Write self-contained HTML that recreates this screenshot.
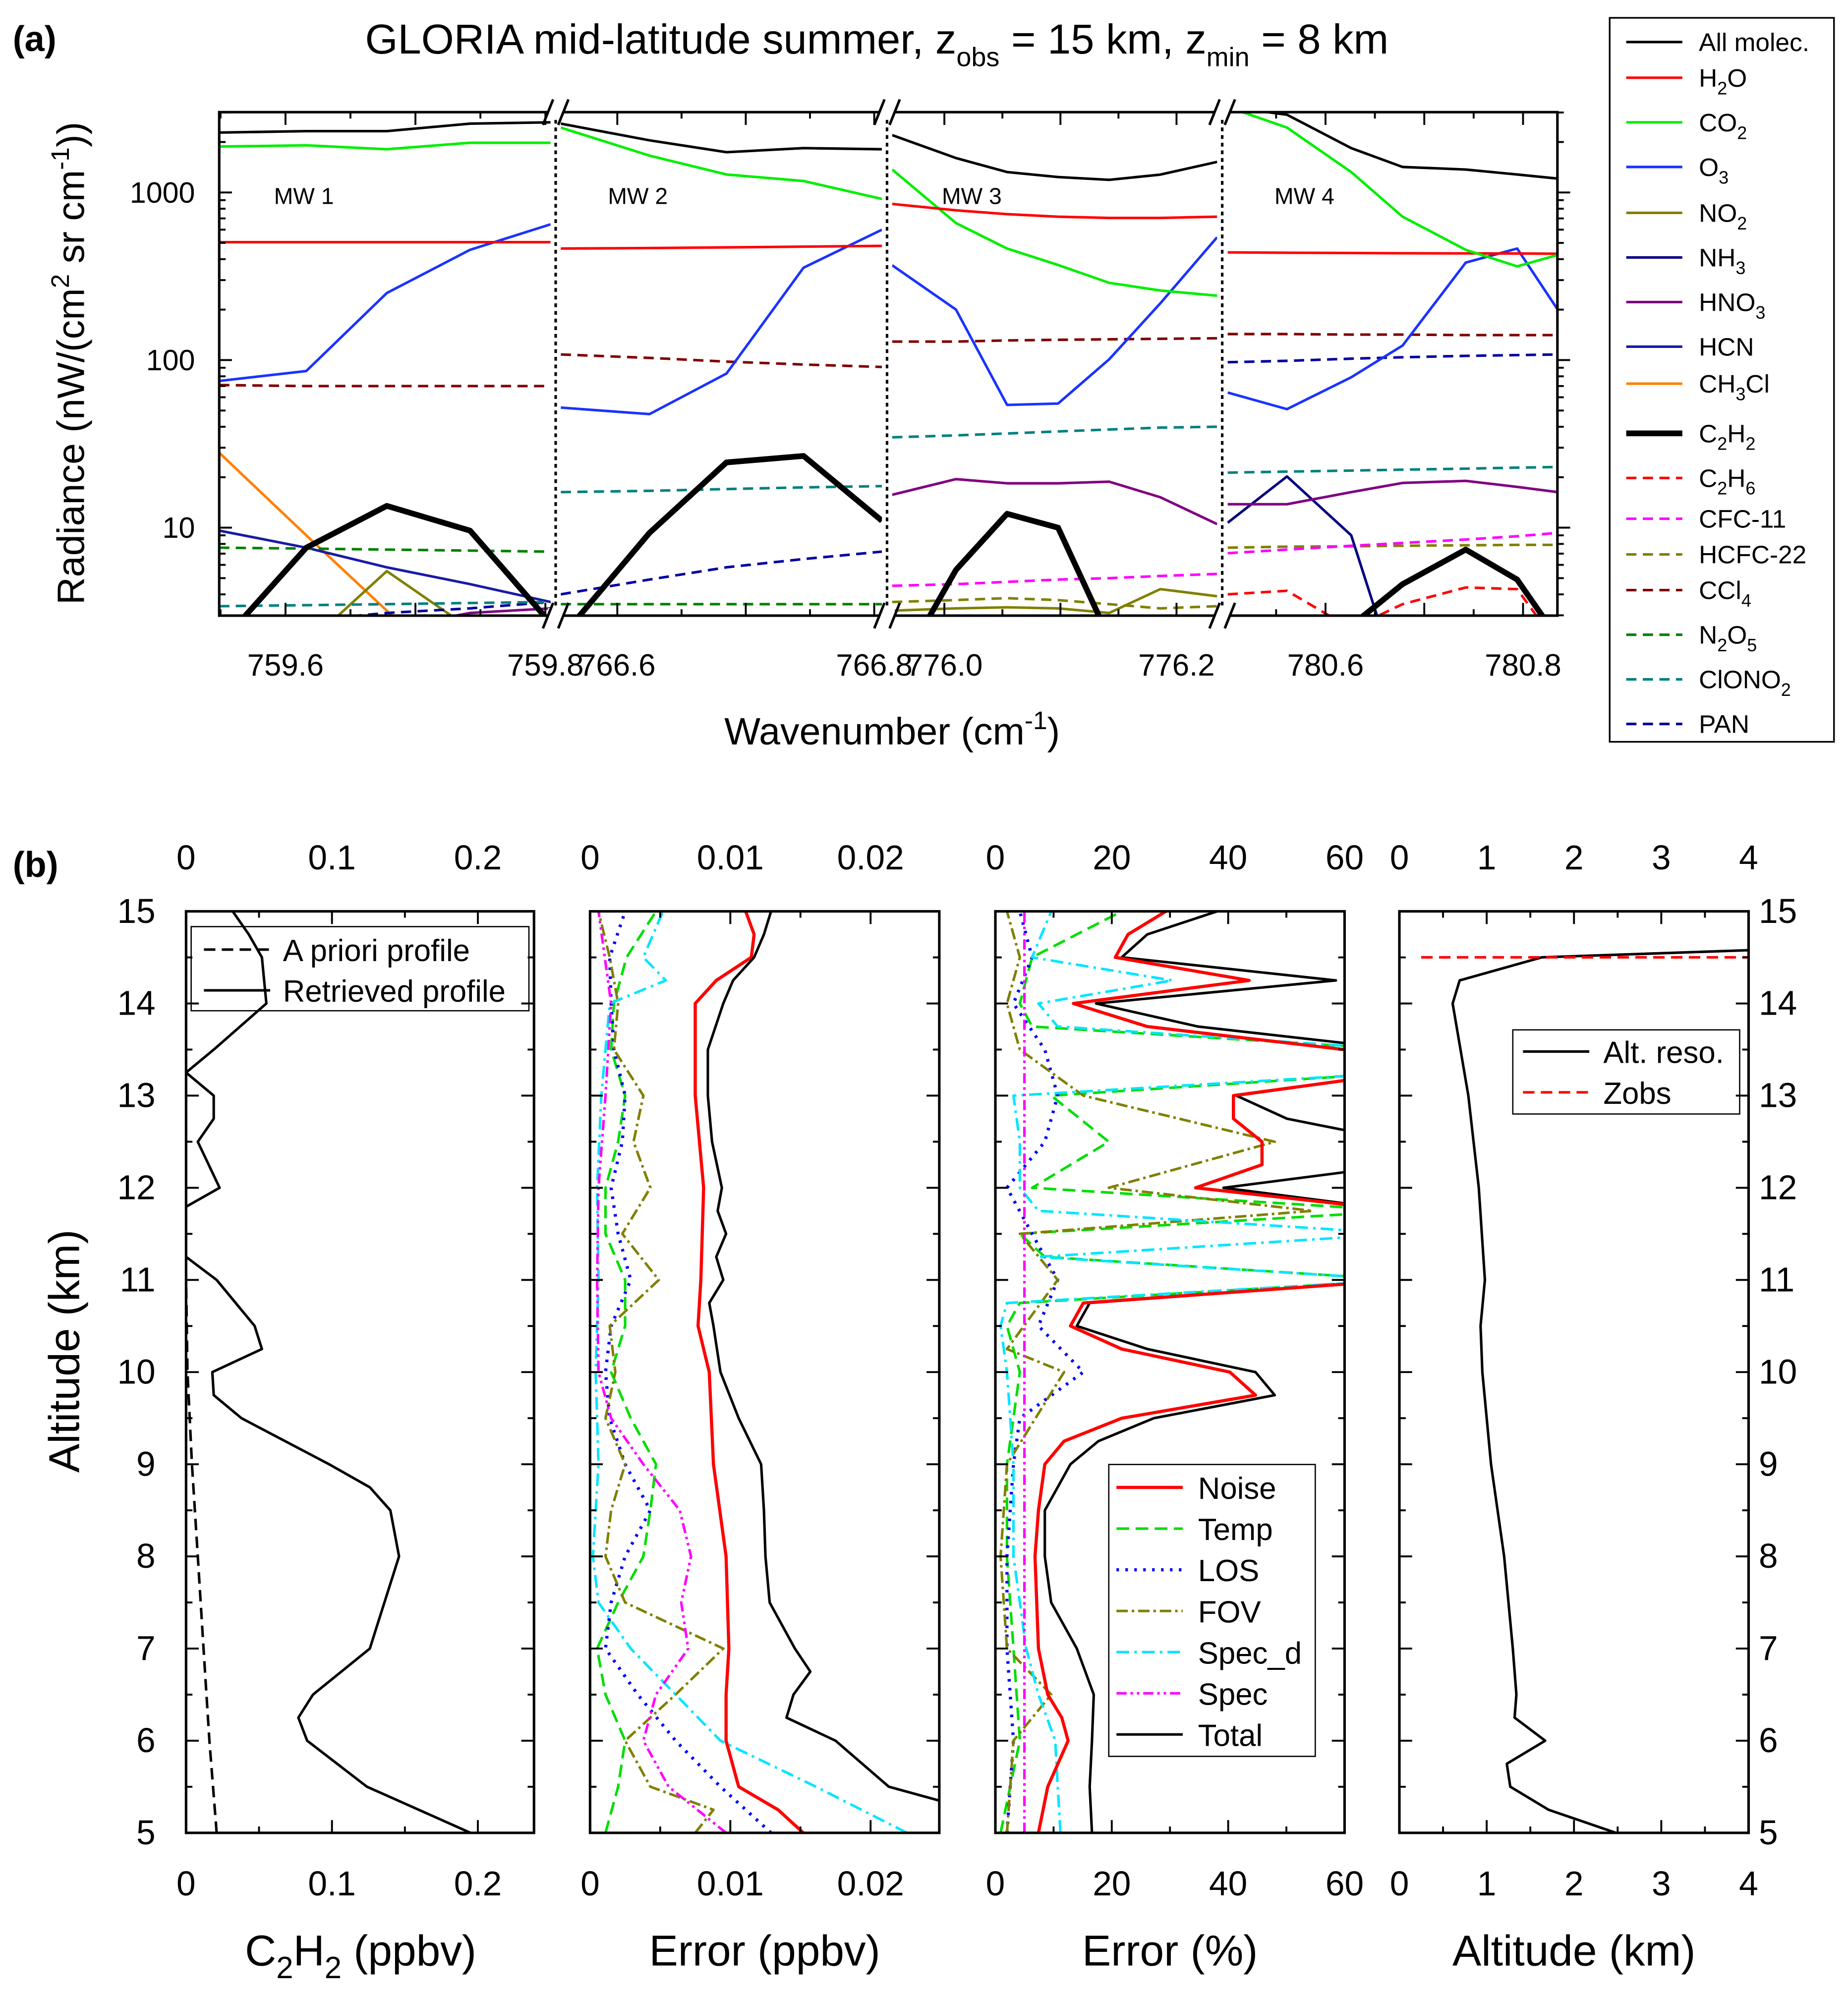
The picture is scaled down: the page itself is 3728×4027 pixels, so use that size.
<!DOCTYPE html>
<html><head><meta charset="utf-8"><title>GLORIA C2H2</title>
<style>
html,body{margin:0;padding:0;background:#fff;}
svg{display:block;font-family:"Liberation Sans",Arial,sans-serif;}
</style></head>
<body>
<svg id="chart" xmlns="http://www.w3.org/2000/svg" width="3728" height="4027" viewBox="0 0 1450 1566" preserveAspectRatio="none">
<rect x="0" y="0" width="1450" height="1566" fill="#fff"/>
<defs>
<clipPath id="cmw1"><rect x="172" y="88" width="260" height="395"/></clipPath>
<clipPath id="cmw2"><rect x="440" y="88" width="252" height="395"/></clipPath>
<clipPath id="cmw3"><rect x="700" y="88" width="255" height="395"/></clipPath>
<clipPath id="cmw4"><rect x="963" y="88" width="259" height="395"/></clipPath>
<clipPath id="cb1"><rect x="146" y="715" width="273" height="723"/></clipPath>
<clipPath id="cb2"><rect x="463" y="715" width="274" height="723"/></clipPath>
<clipPath id="cb3"><rect x="781" y="715" width="274" height="723"/></clipPath>
<clipPath id="cb4"><rect x="1098" y="715" width="274" height="723"/></clipPath>
</defs>
<text x="10" y="40" font-size="28" font-weight="bold">(a)</text>
<text x="10" y="688" font-size="28" font-weight="bold">(b)</text>
<text x="688" y="42" font-size="33" text-anchor="middle">GLORIA mid-latitude summer, z<tspan font-size="21" dy="10">obs</tspan><tspan dy="-10"> = 15 km, z</tspan><tspan font-size="21" dy="10">min</tspan><tspan dy="-10"> = 8 km</tspan></text>
<text transform="translate(66,285) rotate(-90)" font-size="30" text-anchor="middle">Radiance (nW/(cm<tspan font-size="20" dy="-12">2</tspan><tspan dy="12"> sr cm</tspan><tspan font-size="20" dy="-12">-1</tspan><tspan dy="12">))</tspan></text>
<text x="700" y="584" font-size="30" text-anchor="middle">Wavenumber (cm<tspan font-size="20" dy="-12">-1</tspan><tspan dy="12">)</tspan></text>
<text transform="translate(62,1060) rotate(-90)" font-size="34" text-anchor="middle">Altitude (km)</text>
<text x="283" y="1542" font-size="34" text-anchor="middle">C<tspan font-size="24" dy="10">2</tspan><tspan dy="-10">H</tspan><tspan font-size="24" dy="10">2</tspan><tspan dy="-10"> (ppbv)</tspan></text>
<text x="600" y="1542" font-size="34" text-anchor="middle">Error (ppbv)</text>
<text x="918" y="1542" font-size="34" text-anchor="middle">Error (%)</text>
<text x="1235" y="1542" font-size="34" text-anchor="middle">Altitude (km)</text>
<g id="mwlabels" font-size="18">
<text x="215" y="160">MW 1</text>
<text x="477" y="160">MW 2</text>
<text x="739" y="160">MW 3</text>
<text x="1000" y="160">MW 4</text>
</g>
<g id="legendA">
<rect x="1263" y="14" width="176" height="568" fill="#fff" stroke="#000" stroke-width="1.3"/>
</g>
<g id="legB1">
<rect x="150" y="727" width="265" height="66" fill="#fff" stroke="#000" stroke-width="1"/>
<line x1="160" y1="745" x2="212" y2="745" stroke="#000" stroke-width="2" stroke-dasharray="9,5"/>
<text x="222" y="754" font-size="24">A priori profile</text>
<line x1="160" y1="777" x2="212" y2="777" stroke="#000" stroke-width="2"/>
<text x="222" y="786" font-size="24">Retrieved profile</text>
</g>
<g id="legB4">
<rect x="1187" y="808" width="178" height="66" fill="#fff" stroke="#000" stroke-width="1"/>
<line x1="1195" y1="825" x2="1247" y2="825" stroke="#000" stroke-width="2"/>
<text x="1258" y="834" font-size="24">Alt. reso.</text>
<line x1="1195" y1="857" x2="1247" y2="857" stroke="#f00" stroke-width="2" stroke-dasharray="9,5"/>
<text x="1258" y="866" font-size="24">Zobs</text>
</g>
<script>
// ---------- Panel (a) data ----------
const mw1_wn=[759.549,759.616,759.678,759.742,759.804];
const mw1_all=[2276,2320,2320,2575,2620];
const mw1_h2o=[505,505,505,505,505];
const mw1_co2=[1878,1913,1811,1980,1980];
const mw1_o3=[75,86,251,455,646];
const mw1_ccl4=[71,70,70,70,70];
const mw1_c2h2=[2,7.6,13.5,9.6,2.7];
const mw1_ch3cl=[28,9,3.2,1,1];
const mw1_hcn=[9.6,7.6,5.8,4.6,3.6];
const mw1_n2o5=[7.6,7.5,7.4,7.3,7.2];
const mw1_clono2=[3.4,3.45,3.5,3.55,3.6];
const mw1_pan=[2.6,2.8,3.1,3.3,3.6];
const mw1_no2=[2,2,5.5,2.5,2];
const mw1_hno3=[2,2,2.5,3.1,3.3];

const mw2_wn=[766.556,766.625,766.685,766.745,766.806];
const mw2_all=[2575,2045,1740,1840,1810];
const mw2_h2o=[463,466,470,475,480];
const mw2_co2=[2440,1660,1280,1170,915];
const mw2_o3=[52,47.6,83,356,600];
const mw2_ccl4=[108,103,98,94,91];
const mw2_clono2=[16.3,16.6,17,17.4,17.7];
const mw2_c2h2=[2.2,9.3,24.5,26.8,11];
const mw2_pan=[4.0,4.9,5.8,6.5,7.2];
const mw2_n2o5=[3.5,3.5,3.5,3.5,3.5];

const mw3_wn=[775.955,776.010,776.054,776.098,776.142,776.186,776.235];
const mw3_all=[2200,1605,1323,1235,1190,1278,1522];
const mw3_h2o=[854,783,742,717,704,704,717];
const mw3_co2=[1370,657,463,369,289,260,242];
const mw3_o3=[368,200,54,55,101,218,541];
const mw3_ccl4=[129,129,131,132,133,134,135];
const mw3_clono2=[34.6,35.5,36.5,37.5,38.5,39.5,40];
const mw3_hno3=[15.7,19.5,18.4,18.4,18.8,15.2,10.5];
const mw3_c2h2=[1.2,5.6,12.1,10,2.2,1,1];
const mw3_cfc11=[4.5,4.6,4.75,4.9,5.0,5.15,5.3];
const mw3_hcfc22=[3.6,3.7,3.8,3.7,3.5,3.3,3.4];
const mw3_no2=[3.2,3.3,3.35,3.3,3.1,4.3,3.9];

const mw4_wn=[780.501,780.561,780.626,780.678,780.742,780.794,780.835];
const mw4_all=[3240,2910,1840,1420,1370,1280,1210];
const mw4_h2o=[439,437,435,434,433,432,431];
const mw4_co2=[3240,2440,1323,717,455,362,424];
const mw4_o3=[64,51,79,122,382,463,200];
const mw4_ccl4=[143,143,142,142,141,141,141];
const mw4_pan=[97,99,102,104,106,107,108];
const mw4_clono2=[21.3,21.6,21.9,22.2,22.5,22.8,23];
const mw4_hno3=[13.8,13.8,16.3,18.5,19,17.5,16.3];
const mw4_nh3=[10.7,20.2,9,1,1,1,1];
const mw4_cfc11=[7.05,7.4,7.8,8.1,8.5,8.9,9.3];
const mw4_hcfc22=[7.6,7.7,7.75,7.8,7.85,7.9,7.9];
const mw4_c2h2=[1,1,2.6,4.6,7.4,4.9,2.2];
const mw4_c2h6=[4,4.2,2.5,3.5,4.4,4.3,2];

const radTicks=[10,100,1000];
const radTickLabels=["10","100","1000"];
const mw1_ticks=[759.6,759.8];const mw1_tickLabels=["759.6","759.8"];
const mw2_ticks=[766.6,766.8];const mw2_tickLabels=["766.6","766.8"];
const mw3_ticks=[776.0,776.2];const mw3_tickLabels=["776.0","776.2"];
const mw4_ticks=[780.6,780.8];const mw4_tickLabels=["780.6","780.8"];

// ---------- Panel (b) data ----------
const b1_apr_alt=[5,6,7,8,9,10,11,15];
const b1_apr_val=[0.021,0.016,0.012,0.008,0.004,0.001,0,0];
const b1_ret_alt=[5,5.5,6,6.25,6.5,7,7.25,8,8.5,8.75,9,9.5,9.75,10,10.25,10.5,11,11.25,11.5,11.75,12,12.5,12.75,13,13.25,13.5,14,14.5,14.75,15];
const b1_ret_val=[0.195,0.124,0.083,0.077,0.087,0.126,0.131,0.146,0.14,0.126,0.098,0.038,0.019,0.018,0.052,0.047,0.021,0,-0.003,-0.005,0.023,0.008,0.019,0.019,0,0.019,0.055,0.052,0.043,0.032];

const b2_tot_alt=[5,5.35,5.5,6,6.25,6.5,6.75,7,7.5,8,8.5,9,9.5,10,10.5,10.75,11,11.25,11.5,11.75,12,12.5,13,13.5,14,14.25,14.5,14.75,15];
const b2_tot_val=[0.0306,0.0249,0.0213,0.0175,0.0140,0.0145,0.0157,0.0146,0.0128,0.0125,0.0124,0.0122,0.0106,0.0093,0.0088,0.0085,0.0095,0.0090,0.0097,0.0091,0.0094,0.0087,0.0084,0.0084,0.0095,0.0102,0.0117,0.0124,0.0129];
const b2_noise_alt=[5,5.25,5.5,6,6.5,7,8,9,10,10.5,11,12,13,13.5,14,14.25,14.5,14.75,15];
const b2_noise_val=[0.0152,0.0134,0.0106,0.0097,0.0097,0.0099,0.0097,0.0088,0.0085,0.0077,0.0079,0.0081,0.0075,0.0075,0.0075,0.0090,0.0115,0.0117,0.0111];
const b2_specd_alt=[5,5.5,6,6.5,7,7.5,8,9,10,11,12,13,14,14.25,14.5,15];
const b2_specd_val=[0.0226,0.0161,0.0093,0.0061,0.0029,0.0006,0.0002,0.0006,0.0004,0.0006,0.0005,0.0008,0.0014,0.0054,0.0038,0.0052];
const b2_spec_alt=[5,5.5,6,6.5,7,7.5,8,8.5,9,9.5,10,11,12,13,14,15];
const b2_spec_val=[0.0097,0.0056,0.0038,0.0047,0.0070,0.0065,0.0072,0.0064,0.0038,0.0015,0.0006,0.0005,0.0006,0.0011,0.0015,0.0006];
const b2_temp_alt=[5,5.5,6,6.5,7,7.5,8,8.5,9,9.5,10,10.5,11,11.5,12,12.5,13,13.5,14,14.5,15];
const b2_temp_val=[0.0011,0.0020,0.0025,0.0011,0.0005,0.0020,0.0038,0.0043,0.0047,0.0029,0.0015,0.0025,0.0025,0.0011,0.0011,0.0020,0.0025,0.0015,0.0017,0.0026,0.0047];
const b2_los_alt=[5,5.5,6,6.5,7,7.5,8,8.5,9,9.5,10,10.5,11,11.5,12,12.5,13,13.5,14,14.5,15];
const b2_los_val=[0.0129,0.0093,0.0061,0.0034,0.0011,0.0015,0.0025,0.0043,0.0025,0.0014,0.0011,0.0015,0.0029,0.0020,0.0015,0.0023,0.0025,0.0017,0.0015,0.0014,0.0025];
const b2_fov_alt=[5,5.25,5.5,6,6.5,7,7.5,8,8.5,9,9.5,10,10.5,11,11.5,12,12.5,13,13.5,14,14.5,15];
const b2_fov_val=[0.0075,0.0088,0.0043,0.0025,0.0061,0.0095,0.0025,0.0011,0.0015,0.0025,0.0011,0.0018,0.0014,0.0049,0.0023,0.0043,0.0031,0.0038,0.0017,0.0020,0.0014,0.0006];

const b3_tot_alt=[5,5.5,6,6.5,7,7.5,8,8.5,9,9.25,9.5,9.75,10,10.25,10.5,10.75,11,11.25,11.5,11.75,12,12.25,12.5,12.75,13,13.25,13.5,13.75,14,14.25,14.5,14.75,15];
const b3_tot_val=[16.6,16.2,16.6,16.9,14.0,9.6,8.5,8.5,12.9,17.7,27.2,48.0,44.7,26.1,14.0,16.2,70,70,70,70,39.2,70,70,50.1,41.4,70,70,34.8,17.3,58.5,21.7,26.1,38.1];
const b3_noise_alt=[5,5.5,6,6.25,6.5,7,8,8.5,9,9.25,9.5,9.75,10,10.25,10.5,10.75,11,11.25,11.5,11.75,12,12.25,12.5,12.75,13,13.25,13.5,13.75,14,14.25,14.5,14.75,15];
const b3_noise_val=[7.4,9.0,12.5,11.4,9.0,7.4,6.8,7.4,8.5,11.8,21.7,44.7,40.3,21.7,12.9,15.1,70,70,70,70,34.4,45.8,45.8,40.9,40.9,70,60,26.1,13.4,43.6,20.6,22.8,29.3];
const b3_specd_alt=[5,5.5,6,6.5,7,8,9,10,10.5,10.75,11,11.25,11.5,11.75,12,12.5,13,13.25,13.5,13.75,14,14.25,14.5,15];
const b3_specd_val=[11.2,10.7,10.3,7.4,5.3,3.1,3.1,2.0,0.9,2.0,70,7.4,70,7.4,4.2,4.2,3.1,70,70,10.7,7.4,30.4,6.3,9.6];
const b3_temp_alt=[5,6,7,8,9,10,10.5,10.75,11,11.25,11.5,11.75,12,12.5,13,13.25,13.5,13.75,14,14.5,15];
const b3_temp_val=[0.9,4.2,3.1,2.0,2.0,4.2,2.0,4.2,70,8.5,4.2,70,6.3,19.5,9.6,70,70,6.3,4.2,6.3,21.7];
const b3_los_alt=[5,6,7,8,9,9.5,10,10.5,11,11.5,12,12.5,13,13.5,14,14.5,15];
const b3_los_val=[2.0,3.1,2.0,2.0,3.1,4.2,15.1,7.4,10.7,6.3,2.0,8.5,10.7,8.5,3.1,6.3,4.2];
const b3_fov_alt=[5,6,6.5,7,8,9,10,10.25,11,11.5,11.75,12,12.5,13,13.5,14,14.5,15];
const b3_fov_val=[2.0,3.1,9.6,2.0,0.9,2.0,11.8,2.0,10.7,4.2,54.5,19.5,48,15.1,4.2,2.0,4.2,2.0];
const b3_spec_alt=[5,15];
const b3_spec_val=[5,5];

const b4_res_alt=[5,5.25,5.5,5.75,6,6.25,6.5,7,8,9,10,10.5,11,12,13,14,14.25,14.5,14.58,15];
const b4_res_val=[2.48,1.71,1.27,1.23,1.67,1.32,1.34,1.30,1.20,1.05,0.95,0.93,0.98,0.91,0.79,0.61,0.69,1.63,4.05,4.5];
const b4_zobs_alt=[14.5,14.5];
const b4_zobs_val=[0.25,4];

const altTicks=[5,6,7,8,9,10,11,12,13,14,15];
const b1_ticks=[0,0.1,0.2];const b1_tickLabels=["0","0.1","0.2"];
const b2_ticks=[0,0.01,0.02];const b2_tickLabels=["0","0.01","0.02"];
const b3_ticks=[0,20,40,60];const b3_tickLabels=["0","20","40","60"];
const b4_ticks=[0,1,2,3,4];const b4_tickLabels=["0","1","2","3","4"];

// ---------- drawing ----------
const NS='http://www.w3.org/2000/svg';
const svg=document.getElementById('chart');
function mk(tag,attrs,parent){const e=document.createElementNS(NS,tag);for(const k in attrs)e.setAttribute(k,attrs[k]);(parent||svg).appendChild(e);return e;}

const yA=v=>151-(Math.log10(v)-3)*131.5;
const MW=[
 {px0:172,px1:432,wn0:759.549,wn1:759.804,clip:'cmw1',ticks:mw1_ticks,labels:mw1_tickLabels,name:'mw1'},
 {px0:440,px1:692,wn0:766.556,wn1:766.806,clip:'cmw2',ticks:mw2_ticks,labels:mw2_tickLabels,name:'mw2'},
 {px0:700,px1:955,wn0:775.955,wn1:776.235,clip:'cmw3',ticks:mw3_ticks,labels:mw3_tickLabels,name:'mw3'},
 {px0:963,px1:1222,wn0:780.5006,wn1:780.8348,clip:'cmw4',ticks:mw4_ticks,labels:mw4_tickLabels,name:'mw4'}];
MW.forEach(m=>{m.x=w=>m.px0+(w-m.wn0)/(m.wn1-m.wn0)*(m.px1-m.px0);});

const ST={
 all:['#000',2,''],h2o:['#ff0000',2,''],co2:['#00ee00',2,''],o3:['#1a33ff',2,''],no2:['#808000',2,''],
 nh3:['#000080',2,''],hno3:['#800080',2,''],hcn:['#1a1aa6',2,''],ch3cl:['#ff8000',2,''],c2h2:['#000',4.5,''],
 c2h6:['#ff0000',2,'8,5'],cfc11:['#ff00ff',2,'8,5'],hcfc22:['#808000',2,'8,5'],ccl4:['#800000',2,'8,5'],
 n2o5:['#008000',2,'8,5'],clono2:['#008080',2,'8,5'],pan:['#0000a0',2,'8,5']};

function seriesA(m,wn,vals,key){
 const s=ST[key];
 const pts=wn.map((w,i)=>m.x(w).toFixed(1)+','+yA(vals[i]).toFixed(1)).join(' ');
 const p=mk('polyline',{points:pts,fill:'none',stroke:s[0],'stroke-width':s[1],'stroke-dasharray':s[2],'clip-path':'url(#'+m.clip+')','stroke-linejoin':'round'});
 
 
}
const A=[
 [0,mw1_wn,{ch3cl:mw1_ch3cl,hcn:mw1_hcn,no2:mw1_no2,hno3:mw1_hno3,pan:mw1_pan,clono2:mw1_clono2,n2o5:mw1_n2o5,ccl4:mw1_ccl4,o3:mw1_o3,h2o:mw1_h2o,co2:mw1_co2,c2h2:mw1_c2h2,all:mw1_all}],
 [1,mw2_wn,{pan:mw2_pan,n2o5:mw2_n2o5,clono2:mw2_clono2,ccl4:mw2_ccl4,o3:mw2_o3,h2o:mw2_h2o,co2:mw2_co2,c2h2:mw2_c2h2,all:mw2_all}],
 [2,mw3_wn,{no2:mw3_no2,hcfc22:mw3_hcfc22,cfc11:mw3_cfc11,hno3:mw3_hno3,clono2:mw3_clono2,ccl4:mw3_ccl4,o3:mw3_o3,co2:mw3_co2,h2o:mw3_h2o,c2h2:mw3_c2h2,all:mw3_all}],
 [3,mw4_wn,{c2h6:mw4_c2h6,hcfc22:mw4_hcfc22,cfc11:mw4_cfc11,nh3:mw4_nh3,hno3:mw4_hno3,clono2:mw4_clono2,pan:mw4_pan,ccl4:mw4_ccl4,o3:mw4_o3,h2o:mw4_h2o,co2:mw4_co2,c2h2:mw4_c2h2,all:mw4_all}]];
A.forEach(([i,wn,obj])=>{for(const k in obj)seriesA(MW[i],wn,obj[k],k);});

const fa=mk('rect',{x:172,y:88,width:1050,height:395,fill:'none',stroke:'#000','stroke-width':2});


[436,696,959].forEach((bx,i)=>{
 const l=mk('line',{x1:bx,y1:88,x2:bx,y2:483,stroke:'#000','stroke-width':2,'stroke-dasharray':'3,3'});
 
 
 [88,483].forEach(yy=>{
  mk('rect',{x:bx-6,y:yy-6,width:12,height:12,fill:'#fff'});
  mk('line',{x1:bx-10,y1:yy+10,x2:bx-2,y2:yy-10,stroke:'#000','stroke-width':2});
  mk('line',{x1:bx+2,y1:yy+10,x2:bx+10,y2:yy-10,stroke:'#000','stroke-width':2});
 });
});
for(let d=0;d<4;d++){for(let k=1;k<10;k++){const v=Math.pow(10,d)*k;if(v<3||v>3300)continue;const y=yA(v);const len=k===1?10:5;
 mk('line',{x1:172,y1:y,x2:172+len,y2:y,stroke:'#000','stroke-width':1.5});
 mk('line',{x1:1222,y1:y,x2:1222+len,y2:y,stroke:'#000','stroke-width':1.5});}}
radTicks.forEach((v,i)=>{const t=mk('text',{x:153,y:yA(v)+8,'font-size':23,'text-anchor':'end'});t.textContent=radTickLabels[i];
 
 });
MW.forEach(m=>{
 for(let w=Math.ceil(m.wn0*20)/20;w<=m.wn1+1e-6;w+=0.05){const x=m.x(w);const maj=Math.abs(w*10-Math.round(w*10))<1e-6;const len=maj?10:5;
  mk('line',{x1:x,y1:483,x2:x,y2:483-len,stroke:'#000','stroke-width':1.5});
  mk('line',{x1:x,y1:88,x2:x,y2:88+len,stroke:'#000','stroke-width':1.5});}
 m.ticks.forEach((w,i)=>{const t=mk('text',{x:m.x(w),y:530,'font-size':24,'text-anchor':'middle'});t.textContent=m.labels[i];
  
  });
});

const legA=document.getElementById('legendA');
const legItems=[['all','All molec.'],['h2o','H|2|O'],['co2','CO|2|'],['o3','O|3|'],['no2','NO|2|'],['nh3','NH|3|'],['hno3','HNO|3|'],['hcn','HCN'],['ch3cl','CH|3|Cl'],['c2h2','C|2|H|2|'],['c2h6','C|2|H|6|'],['cfc11','CFC-11'],['hcfc22','HCFC-22'],['ccl4','CCl|4|'],['n2o5','N|2|O|5|'],['clono2','ClONO|2|'],['pan','PAN']];
const legY=[33,61,96,131,167,202,237,272,301,340,375,407,435,463,498,533,568];
legItems.forEach((it,i)=>{const s=ST[it[0]];const y=legY[i];
 const l=mk('line',{x1:1276,y1:y,x2:1320,y2:y,stroke:s[0],'stroke-width':s[1],'stroke-dasharray':s[2]},legA);
 
 
 const t=mk('text',{x:1333,y:y+7,'font-size':20},legA);
 
 
 const parts=it[1].split('|');
 parts.forEach((p,j)=>{if(!p)return;const ts=mk('tspan',{},t);ts.textContent=p;if(j%2===1){ts.setAttribute('font-size','14');ts.setAttribute('dy','6');}else if(j>0){ts.setAttribute('dy','-6');}});
});

const yB=a=>1438-(a-5)*72.3;
const SUB=[
 {px0:146,px1:419,v0:0,v1:0.2385,clip:'cb1',ticks:b1_ticks,labels:b1_tickLabels,minor:0.05,name:'c2h2-profile'},
 {px0:463,px1:737,v0:0,v1:0.0249,clip:'cb2',ticks:b2_ticks,labels:b2_tickLabels,minor:0.005,name:'error-ppbv'},
 {px0:781,px1:1055,v0:0,v1:60,clip:'cb3',ticks:b3_ticks,labels:b3_tickLabels,minor:10,name:'error-percent'},
 {px0:1098,px1:1372,v0:0,v1:4,clip:'cb4',ticks:b4_ticks,labels:b4_tickLabels,minor:0.5,name:'altitude-resolution'}];
SUB.forEach(s=>{s.x=v=>s.px0+(v-s.v0)/(s.v1-s.v0)*(s.px1-s.px0);});
function seriesB(si,alt,val,color,w,dash,name){const s=SUB[si];
 const pts=alt.map((a,i)=>s.x(val[i]).toFixed(1)+','+yB(a).toFixed(1)).join(' ');
 const p=mk('polyline',{points:pts,fill:'none',stroke:color,'stroke-width':w,'stroke-dasharray':dash,'clip-path':'url(#'+s.clip+')','stroke-linejoin':'round'});
 
 }
seriesB(0,b1_apr_alt,b1_apr_val,'#000',2,'9,5','apriori-profile-line');
seriesB(0,b1_ret_alt,b1_ret_val,'#000',2,'','retrieved-profile-line');
seriesB(1,b2_temp_alt,b2_temp_val,'#00dd00',2,'10,5','temp-error-ppbv-line');
seriesB(1,b2_los_alt,b2_los_val,'#0000ff',2.5,'2,5','los-error-ppbv-line');
seriesB(1,b2_fov_alt,b2_fov_val,'#808000',2,'9,3,2,3','fov-error-ppbv-line');
seriesB(1,b2_specd_alt,b2_specd_val,'#00e5ff',2,'10,4,2,4','spec-d-error-ppbv-line');
seriesB(1,b2_spec_alt,b2_spec_val,'#ff00ff',2,'8,3,2,3,2,3','spec-error-ppbv-line');
seriesB(1,b2_noise_alt,b2_noise_val,'#ff0000',2.5,'','noise-error-ppbv-line');
seriesB(1,b2_tot_alt,b2_tot_val,'#000',2,'','total-error-ppbv-line');
seriesB(2,b3_temp_alt,b3_temp_val,'#00dd00',2,'10,5','temp-error-percent-line');
seriesB(2,b3_los_alt,b3_los_val,'#0000ff',2.5,'2,5','los-error-percent-line');
seriesB(2,b3_fov_alt,b3_fov_val,'#808000',2,'9,3,2,3','fov-error-percent-line');
seriesB(2,b3_specd_alt,b3_specd_val,'#00e5ff',2,'10,4,2,4','spec-d-error-percent-line');
seriesB(2,b3_spec_alt,b3_spec_val,'#ff00ff',2,'8,3,2,3,2,3','spec-error-percent-line');
seriesB(2,b3_tot_alt,b3_tot_val,'#000',2,'','total-error-percent-line');
seriesB(2,b3_noise_alt,b3_noise_val,'#ff0000',2.5,'','noise-error-percent-line');
seriesB(3,b4_res_alt,b4_res_val,'#000',2,'','altitude-resolution-line');
seriesB(3,b4_zobs_alt,b4_zobs_val,'#ff0000',2,'9,5','zobs-line');

SUB.forEach((s,si)=>{
 const f=mk('rect',{x:s.px0,y:715,width:s.px1-s.px0,height:723,fill:'none',stroke:'#000','stroke-width':2});
 
 
 for(let a=5;a<=15.001;a+=0.5){const y=yB(a);const len=Number.isInteger(a)?10:5;
  mk('line',{x1:s.px0,y1:y,x2:s.px0+len,y2:y,stroke:'#000','stroke-width':1.5});
  mk('line',{x1:s.px1,y1:y,x2:s.px1-len,y2:y,stroke:'#000','stroke-width':1.5});}
 for(let v=s.v0;v<=s.v1+1e-9;v+=s.minor){const x=s.x(v);const maj=s.ticks.some(t=>Math.abs(t-v)<1e-9);const len=maj?10:5;
  mk('line',{x1:x,y1:1438,x2:x,y2:1438-len,stroke:'#000','stroke-width':1.5});
  mk('line',{x1:x,y1:715,x2:x,y2:715+len,stroke:'#000','stroke-width':1.5});}
 s.ticks.forEach((v,i)=>{
  const t1=mk('text',{x:s.x(v),y:1487,'font-size':27,'text-anchor':'middle'});t1.textContent=s.labels[i];
  
  
  const t2=mk('text',{x:s.x(v),y:682,'font-size':27,'text-anchor':'middle'});t2.textContent=s.labels[i];
  
  });
});
altTicks.forEach(a=>{
 const t=mk('text',{x:122,y:yB(a)+9,'font-size':27,'text-anchor':'end'});t.textContent=String(a);
 
 
 const t2=mk('text',{x:1380,y:yB(a)+9,'font-size':27,'text-anchor':'start'});t2.textContent=String(a);
 
 });

const lg=mk('g',{});


mk('rect',{x:870,y:1149,width:162,height:229,fill:'#fff',stroke:'#000','stroke-width':1},lg);
const errItems=[['Noise','#ff0000',2.5,''],['Temp','#00dd00',2,'10,5'],['LOS','#0000ff',2.5,'2,5'],['FOV','#808000',2,'9,3,2,3'],['Spec_d','#00e5ff',2,'10,4,2,4'],['Spec','#ff00ff',2,'8,3,2,3,2,3'],['Total','#000',2,'']];
errItems.forEach((e,i)=>{const y=1167+i*32.3;
 mk('line',{x1:876,y1:y,x2:928,y2:y,stroke:e[1],'stroke-width':e[2],'stroke-dasharray':e[3]},lg);
 const t=mk('text',{x:940,y:y+9,'font-size':24},lg);t.textContent=e[0];
 
 });
</script>
</svg>
</body></html>
